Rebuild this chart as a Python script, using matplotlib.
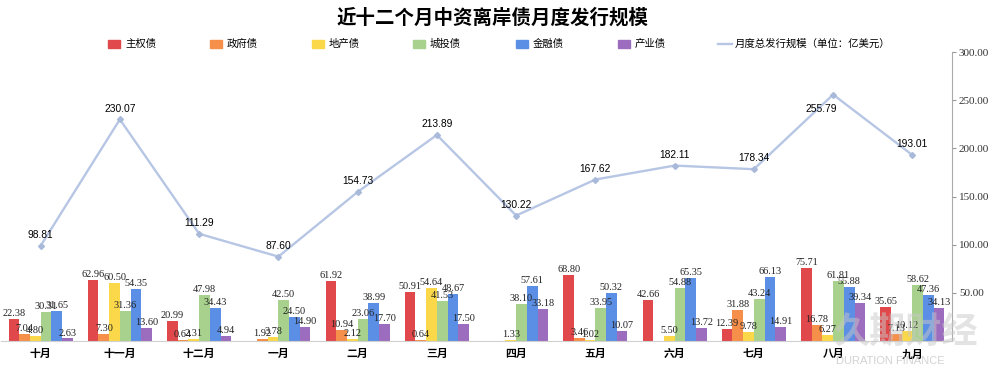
import matplotlib
matplotlib.use("Agg")
import matplotlib.pyplot as plt
import numpy as np
from matplotlib.patches import Rectangle
from matplotlib.lines import Line2D

plt.rcParams['font.family'] = ['Noto Sans CJK SC', 'DejaVu Sans']

months = ["十月", "十一月", "十二月", "一月", "二月", "三月", "四月", "五月", "六月", "七月", "八月", "九月"]
series_names = ["主权债", "政府债", "地产债", "城投债", "金融债", "产业债"]
sovereign = [22.38, 62.96, 20.99, 0, 61.92, 50.91, 0, 68.80, 42.66, 12.39, 75.71, 35.65]
government = [7.04, 7.30, 0.64, 1.92, 10.94, 0.64, 0, 3.46, 0, 31.88, 16.78, 7.13]
property_ = [4.80, 60.50, 2.31, 3.78, 2.12, 54.64, 1.33, 1.02, 5.50, 9.78, 6.27, 10.12]
lgfv = [30.31, 31.36, 47.98, 42.50, 23.06, 41.53, 38.10, 33.95, 54.88, 43.24, 61.81, 58.62]
financial = [31.65, 54.35, 34.43, 24.50, 38.99, 48.67, 57.61, 50.32, 65.35, 66.13, 55.88, 47.36]
industrial = [2.63, 13.60, 4.94, 14.90, 17.70, 17.50, 33.18, 10.07, 13.72, 14.91, 39.34, 34.13]
total = [98.81, 230.07, 111.29, 87.60, 154.73, 213.89, 130.22, 167.62, 182.11, 178.34, 255.79, 193.01]
line_name = "月度总发行规模（单位：亿美元）"
title = "近十二个月中资离岸债月度发行规模"

colors = ["#e0484b", "#f58f4a", "#fbd84a", "#a8d18d", "#5b8fe5", "#9c6cbf"]
line_color = "#b7c6e4"

fig = plt.figure(figsize=(9.98, 3.68), dpi=100)
ax = fig.add_axes([1/998, 27/368, 951/998, 289/368])

x = np.arange(len(months))
bw = 0.135
all_series = [sovereign, government, property_, lgfv, financial, industrial]
for i, (vals, c) in enumerate(zip(all_series, colors)):
    xs = x + (i - 2.5) * bw
    ax.bar(xs, vals, width=bw, color=c, zorder=2)
    for xi, v in zip(xs, vals):
        if v > 0:
            ax.text(xi, v + 1.0, f"{v:.2f}", ha='center', va='bottom',
                    fontsize=7.4, family='Liberation Serif', color='#222222', zorder=5)

ax.plot(x, total, color=line_color, lw=1.7, marker='D', markersize=3,
        markerfacecolor='#a9b9d9', markeredgecolor='#a9b9d9', zorder=3)
for xi, v in zip(x, total):
    if v > 250:
        ax.text(xi - 0.15, v - 10, f"{v:.2f}", ha='center', va='top',
                fontsize=7.4, family='Liberation Sans', color='black', zorder=5)
    else:
        ax.text(xi, v + 6, f"{v:.2f}", ha='center', va='bottom',
                fontsize=7.4, family='Liberation Sans', color='black', zorder=5)

ax.set_xlim(-0.5, len(months) - 0.5)
ax.set_ylim(0, 300)
ax.set_xticks(x)
ax.set_xticklabels(months, fontsize=7.8, fontweight='bold')
ax.tick_params(axis='x', length=0, pad=6)
ax.yaxis.tick_right()
ax.set_yticks([50, 100, 150, 200, 250, 300])
ax.set_yticklabels([f"{t:.2f}" for t in [50, 100, 150, 200, 250, 300]],
                   fontsize=8, family='Liberation Serif', color='#333333')
ax.tick_params(axis='y', length=3, color='#999999', pad=2, direction='out')
for s in ['top', 'left']:
    ax.spines[s].set_visible(False)
ax.spines['right'].set_color('#aaaaaa')
ax.spines['bottom'].set_color('#d0d0d0')

# Title
fig.text(493/998, 1 - 18/368, title, ha='center', va='center', fontsize=14, fontweight='bold')

# Legend (manual)
ly = 1 - 44/368
leg_x = [108, 210, 312, 413, 516, 618]
for lx, name, c in zip(leg_x, series_names, colors):
    fig.patches.append(Rectangle((lx/998, ly - 4/368), 12/998, 8/368,
                                 transform=fig.transFigure, color=c, figure=fig))
    fig.text((lx + 17)/998, ly, name, ha='left', va='center', fontsize=7.5)
fig.lines.append(Line2D([718/998, 732/998], [ly, ly], transform=fig.transFigure,
                        color=line_color, lw=1.7, figure=fig))
fig.text(735/998, ly, line_name, ha='left', va='center', fontsize=7.5)

# Watermark
fig.text(905/998, 1 - 333/368, "久期财经", ha='center', va='center', fontsize=26,
         color='#c8c8c8', alpha=0.5, fontstyle='italic', fontweight='bold', zorder=0)
fig.text(890/998, 1 - 361/368, "DURATION FINANCE", ha='center', va='center', fontsize=8,
         color='#c0c0c0', alpha=0.7, family='Liberation Sans', zorder=0)

fig.savefig("out.png", dpi=100)
